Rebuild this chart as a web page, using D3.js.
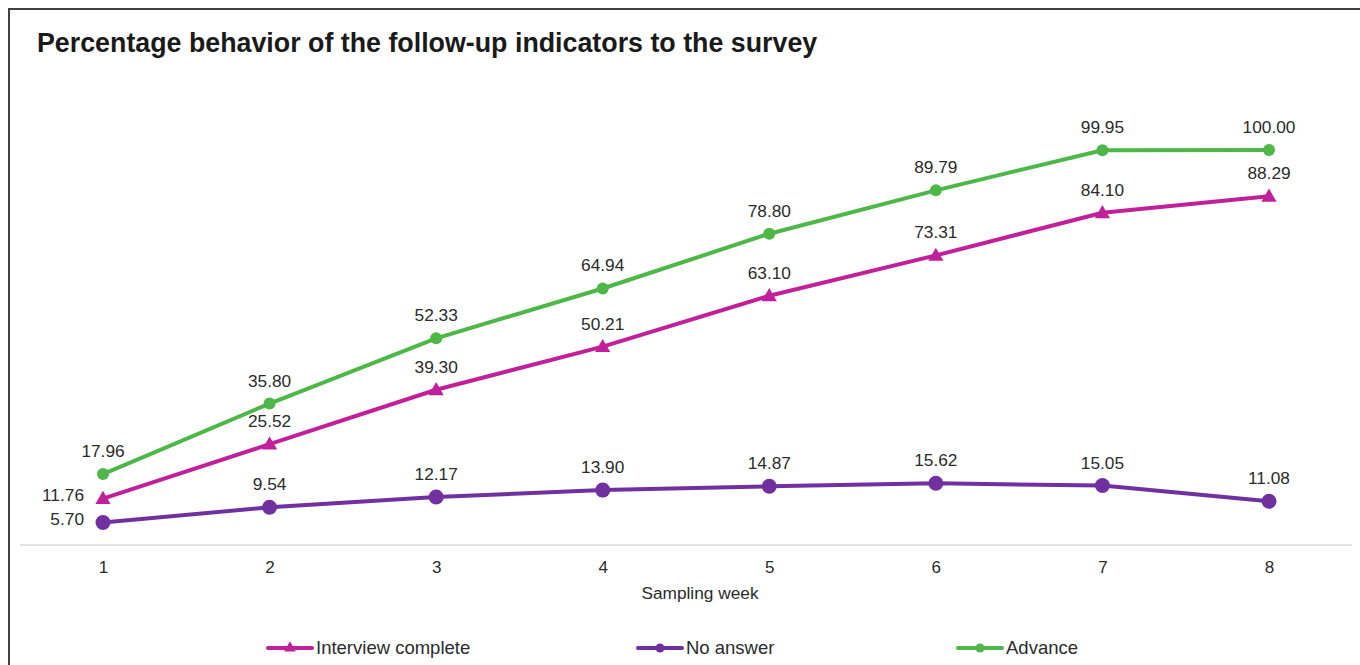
<!DOCTYPE html>
<html>
<head>
<meta charset="utf-8">
<script src="https://cdn.jsdelivr.net/npm/d3@7"></script>
<style>
  html, body { margin: 0; padding: 0; background: #fff; }
  svg { display: block; font-family: "Liberation Sans", Arial, sans-serif; }
</style>
</head>
<body>
<svg id="chart" width="1360" height="665"></svg>
<script>
// Survey follow-up indicators by sampling week (percent)
const weeks = [1, 2, 3, 4, 5, 6, 7, 8];
const interviewComplete = [11.76, 25.52, 39.30, 50.21, 63.10, 73.31, 84.10, 88.29];
const noAnswer = [5.70, 9.54, 12.17, 13.90, 14.87, 15.62, 15.05, 11.08];
const advance = [17.96, 35.80, 52.33, 64.94, 78.80, 89.79, 99.95, 100.00];
const seriesNames = ["Interview complete", "No answer", "Advance"];
const seriesColors = ["#C0209A", "#7030A0", "#4DB848"];
const seriesMarkers = ["triangle", "circle", "circleSmall"];
const titleText = "Percentage behavior of the follow-up indicators to the survey";
const xAxisTitle = "Sampling week";

const svg = d3.select("#chart");
const textColor = "#2b2b2b";

// outer frame
svg.append("rect")
  .attr("x", 9).attr("y", 9)
  .attr("width", 1400).attr("height", 700)
  .attr("fill", "none").attr("stroke", "#404040").attr("stroke-width", 2);

svg.append("text")
  .attr("x", 37).attr("y", 52)
  .attr("font-size", 26.8).attr("font-weight", "bold")
  .attr("fill", "#1a1a1a")
  .text(titleText);

const x = d3.scaleLinear().domain([1, 8]).range([103, 1269]);
const y = d3.scaleLinear().domain([0, 100]).range([545, 150]);

// baseline
svg.append("line")
  .attr("x1", 20).attr("x2", 1352)
  .attr("y1", y(0)).attr("y2", y(0))
  .attr("stroke", "#d9d9d9").attr("stroke-width", 1.5);

// x axis tick labels
const xAxis = d3.axisBottom(x).tickValues(weeks).tickSize(0).tickPadding(16).tickFormat(d3.format("d"));
const gx = svg.append("g").attr("transform", `translate(0,${y(0)})`).call(xAxis);
gx.select(".domain").remove();
gx.selectAll("text").attr("font-size", 17).attr("fill", textColor)
  .attr("font-family", "Liberation Sans, Arial, sans-serif");

svg.append("text")
  .attr("x", 700).attr("y", 599)
  .attr("text-anchor", "middle").attr("font-size", 17.3).attr("fill", textColor)
  .text(xAxisTitle);

const seriesData = [interviewComplete, noAnswer, advance];
const line = d3.line().x((d, i) => x(weeks[i])).y(d => y(d));

function drawMarker(g, type, cx, cy, color) {
  if (type === "triangle") {
    g.append("path")
      .attr("d", d3.symbol().type(d3.symbolTriangle).size(100)())
      .attr("transform", `translate(${cx},${cy + 1})`)
      .attr("fill", color);
  } else {
    g.append("circle")
      .attr("cx", cx).attr("cy", cy)
      .attr("r", type === "circle" ? 7.5 : 6)
      .attr("fill", color);
  }
}

// draw order: no answer, interview complete, advance
[1, 0, 2].forEach(si => {
  const vals = seriesData[si];
  const color = seriesColors[si];
  const g = svg.append("g");
  g.append("path")
    .datum(vals)
    .attr("d", line)
    .attr("fill", "none")
    .attr("stroke", color)
    .attr("stroke-width", 4)
    .attr("stroke-linejoin", "round");
  vals.forEach((v, i) => drawMarker(g, seriesMarkers[si], x(weeks[i]), y(v), color));
});

// value labels
[0, 1, 2].forEach(si => {
  seriesData[si].forEach((v, i) => {
    const px = x(weeks[i]), py = y(v);
    const left = (i === 0 && si !== 2);
    svg.append("text")
      .attr("x", left ? px - 19 : px)
      .attr("y", left ? py - 2 : py - 17)
      .attr("text-anchor", left ? "end" : "middle")
      .attr("dominant-baseline", left ? "middle" : "auto")
      .attr("font-size", 17.3)
      .attr("fill", textColor)
      .text(v.toFixed(2));
  });
});

// legend
const legendX = [268, 638, 958];
seriesNames.forEach((name, si) => {
  const lx = legendX[si], ly = 648;
  const color = seriesColors[si];
  const g = svg.append("g");
  g.append("line")
    .attr("x1", lx).attr("x2", lx + 44)
    .attr("y1", ly).attr("y2", ly)
    .attr("stroke", color).attr("stroke-width", 4).attr("stroke-linecap", "round");
  if (seriesMarkers[si] === "triangle") {
    g.append("path")
      .attr("d", d3.symbol().type(d3.symbolTriangle).size(60)())
      .attr("transform", `translate(${lx + 22},${ly})`)
      .attr("fill", color);
  } else {
    g.append("circle").attr("cx", lx + 22).attr("cy", ly).attr("r", 4.5).attr("fill", color);
  }
  g.append("text")
    .attr("x", lx + 48).attr("y", ly + 1)
    .attr("dominant-baseline", "middle")
    .attr("font-size", 18.5).attr("fill", textColor)
    .text(name);
});
</script>
</body>
</html>
